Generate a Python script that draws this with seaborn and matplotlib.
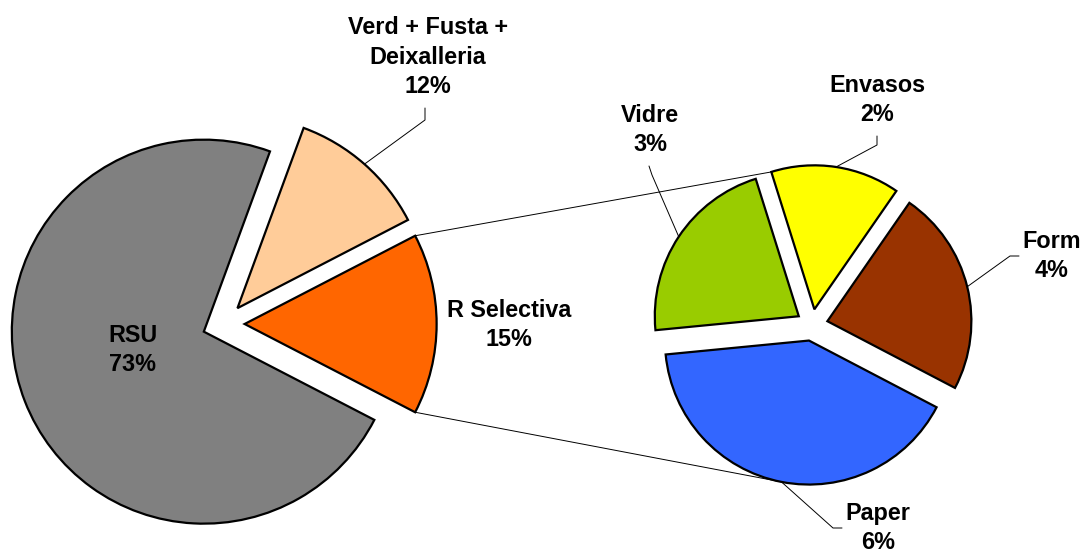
import numpy as np
import seaborn as sns
import matplotlib
matplotlib.use("Agg")
import matplotlib.pyplot as plt

# dades
main_labels = ["R Selectiva", "Verd + Fusta +\nDeixalleria", "RSU"]
main_values = [15.2, 11.8, 73.0]
main_colors = ["#FF6600", "#FFCC99", "#808080"]

sub_labels = ["Paper", "Vidre", "Envasos", "Form"]
sub_values = [6.2, 3.3, 2.2, 3.5]
sub_colors = ["#3366FF", "#99CC00", "#FFFF00", "#993300"]

# posicions de les etiquetes (pixels, y cap avall) i colzes de les línies guia
W, H = 1087, 553
main_text_pos = [(509, 325), (428, 57), (133, 350)]
main_stub = [None, [(425, 108), (425, 120)], None]
sub_text_pos = [(878, 528), (650, 130), (877, 100), (1052, 256)]
sub_stub = [[(842, 528), (833, 528)], [(649, 166), (652, 175)],
            [(877, 136), (877, 145)], [(1019, 256), (1010, 256)]]

sns.set_style("white")
plt.rcParams['font.family'] = ['Liberation Sans', 'DejaVu Sans']

fig = plt.figure(figsize=(W / 100, H / 100), dpi=100)
ax = fig.add_axes([0, 0, 1, 1])


def px(x, y):
    return x, H - y


wp = dict(edgecolor="black", linewidth=1.6)
r_main, r_sub = 192, 144
sel_angle = main_values[0] / sum(main_values) * 360
# l'explosió de pie() va en unitats de dades, no de radi
w_main, _ = ax.pie(main_values, colors=main_colors, startangle=-sel_angle / 2,
                   counterclock=True, explode=[0.11 * r_main] * 3, radius=r_main,
                   center=px(223.5, 324), wedgeprops=wp)
w_sub, _ = ax.pie(sub_values, colors=sub_colors, startangle=-27.6,
                  counterclock=False, explode=[0.11 * r_sub] * 4, radius=r_sub,
                  center=px(812, 325), wedgeprops=wp)


def arc_pt(w, ang):
    a = np.deg2rad(ang)
    return w.center[0] + w.r * np.cos(a), w.center[1] + w.r * np.sin(a)


# línies de connexió entre els dos pastissos
sel = w_main[0]
top_l = arc_pt(sel, sel.theta2)
bot_l = arc_pt(sel, sel.theta1)
top_r = arc_pt(w_sub[2], w_sub[2].theta2)
paper = w_sub[0]
bot_r = arc_pt(paper, (paper.theta1 + paper.theta2) / 2)
ax.plot([top_l[0], top_r[0]], [top_l[1], top_r[1]], color="black", lw=0.7, zorder=0)
ax.plot([bot_l[0], bot_r[0]], [bot_l[1], bot_r[1]], color="black", lw=0.7, zorder=0)

tot = sum(main_values)


def label(w, name, val, pos, stub):
    ax.text(*px(*pos), f"{name}\n{val / tot * 100:.0f}%", ha="center", va="center",
            fontsize=16.8, fontweight="bold", linespacing=1.38, color="black")
    if stub is not None:
        mid = arc_pt(w, (w.theta1 + w.theta2) / 2)
        pts = [px(*p) for p in stub] + [mid]
        ax.plot([p[0] for p in pts], [p[1] for p in pts], color="black", lw=0.7)


for w, n, v, p, s in zip(w_main, main_labels, main_values, main_text_pos, main_stub):
    label(w, n, v, p, s)
for w, n, v, p, s in zip(w_sub, sub_labels, sub_values, sub_text_pos, sub_stub):
    label(w, n, v, p, s)

ax.set_aspect("equal")
ax.set_xlim(0, W)
ax.set_ylim(0, H)
ax.axis("off")

fig.savefig("out.png", dpi=100, facecolor="white")
